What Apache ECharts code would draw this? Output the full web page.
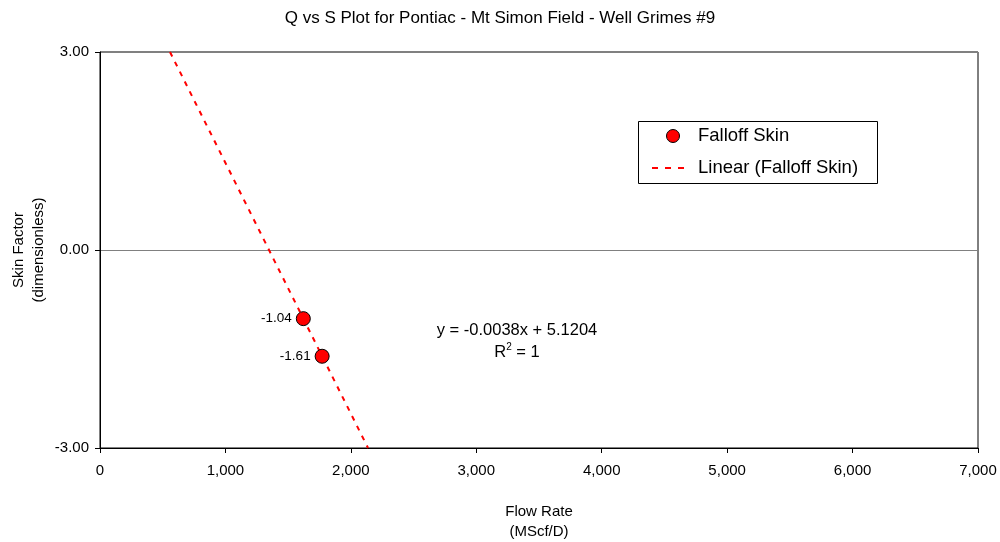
<!DOCTYPE html>
<html><head><meta charset="utf-8">
<script src="https://cdn.jsdelivr.net/npm/echarts@6/dist/echarts.min.js"></script>
<style>html,body{margin:0;padding:0;background:#fff}#c{width:1000px;height:542px}</style>
</head><body><div id="c"></div>
<script>
const flowRate = [1621, 1771];
const skin = [-1.04, -1.61];
const trendX = [558, 2137];
const trendY = [3.0, -3.0];
const xTicks = [0, 1000, 2000, 3000, 4000, 5000, 6000, 7000];
const yTicks = [-3, 0, 3];
const seriesNames = ['Falloff Skin', 'Linear (Falloff Skin)'];
const equationText = 'y = -0.0038x + 5.1204';

const F = '"Liberation Sans", Arial, sans-serif';
const chart = echarts.init(document.getElementById('c'));
chart.setOption({
  animation: false,
  backgroundColor: '#fff',
  title: { text: 'Q vs S Plot for Pontiac - Mt Simon Field - Well Grimes #9', left: 'center', top: 5,
    textStyle: { fontFamily: F, fontSize: 17, fontWeight: 'normal', color: '#000' } },
  grid: { left: 100, right: 22, top: 52, bottom: 94, show: true, borderColor: '#000', borderWidth: 1,
    containLabel: false, outerBoundsMode: 'none' },
  legend: { show: false },
  xAxis: {
    type: 'value', min: xTicks[0], max: xTicks[xTicks.length - 1], interval: 1000,
    name: 'Flow Rate\n(MScf/D)', nameLocation: 'middle', nameGap: 54,
    nameTextStyle: { fontFamily: F, fontSize: 15, color: '#000', lineHeight: 20 },
    axisLine: { onZero: false, lineStyle: { color: '#000' } },
    axisTick: { show: true, length: 5, lineStyle: { color: '#000' } },
    axisLabel: { fontFamily: F, fontSize: 15, color: '#000', margin: 15,
      formatter: v => v.toLocaleString('en-US') },
    splitLine: { show: false }
  },
  yAxis: {
    type: 'value', min: yTicks[0], max: yTicks[yTicks.length - 1], interval: 3,
    name: 'Skin Factor\n(dimensionless)', nameLocation: 'middle', nameGap: 51, nameRotate: 90,
    nameMoveOverlap: false,
    nameTextStyle: { fontFamily: F, fontSize: 15, color: '#000', lineHeight: 20 },
    axisLine: { onZero: false, lineStyle: { color: '#000' } },
    axisTick: { show: true, length: 5, lineStyle: { color: '#000' } },
    axisLabel: { fontFamily: F, fontSize: 15, color: '#000', margin: 11, formatter: v => v.toFixed(2) },
    splitLine: { show: true, lineStyle: { color: '#808080', width: 1 } }
  },
  series: [
    {
      name: seriesNames[1], type: 'line', data: trendX.map((x, i) => [x, trendY[i]]),
      symbol: 'none', lineStyle: { color: '#ff0000', width: 2, type: [5, 6] },
      itemStyle: { color: '#ff0000' }, z: 2
    },
    {
      name: seriesNames[0], type: 'scatter', data: flowRate.map((x, i) => [x, skin[i]]),
      symbol: 'circle', symbolSize: 14,
      itemStyle: { color: '#ff0000', borderColor: '#000', borderWidth: 1, opacity: 1 },
      label: { show: true, position: 'left', distance: 4, fontFamily: F, fontSize: 13.5, color: '#000',
        formatter: p => p.value[1].toFixed(2) },
      z: 3
    }
  ],
  graphic: [
    { type: 'rect', shape: { x: 638.5, y: 121.5, width: 239, height: 62 },
      style: { fill: '#fff', stroke: '#000', lineWidth: 1 }, z: 10 },
    { type: 'circle', shape: { cx: 673, cy: 136, r: 6.5 },
      style: { fill: '#ff0000', stroke: '#000', lineWidth: 1 }, z: 11 },
    { type: 'line', shape: { x1: 652, y1: 168, x2: 690, y2: 168 },
      style: { stroke: '#ff0000', lineWidth: 2, lineDash: [6, 7] }, z: 11 },
    { type: 'text', x: 698, y: 136, z: 11,
      style: { text: seriesNames[0], fontFamily: F, fontSize: 18.5, fill: '#000', verticalAlign: 'middle' } },
    { type: 'text', x: 698, y: 168, z: 11,
      style: { text: seriesNames[1], fontFamily: F, fontSize: 18.5, fill: '#000', verticalAlign: 'middle' } },
    { type: 'text', x: 517, y: 330, z: 11,
      style: { text: equationText, fontFamily: F, fontSize: 16.5, fill: '#000', align: 'center', verticalAlign: 'middle' } },
    { type: 'text', x: 517, y: 352, z: 11,
      style: { text: '{n|R}{s|2}{n| = 1}', align: 'center', verticalAlign: 'middle',
        rich: {
          n: { fontFamily: F, fontSize: 16.5, fill: '#000', lineHeight: 20 },
          s: { fontFamily: F, fontSize: 10, fill: '#000', verticalAlign: 'top', lineHeight: 20, padding: [0, 0, 8, 0] }
        } } }
  ]
});
</script></body></html>
